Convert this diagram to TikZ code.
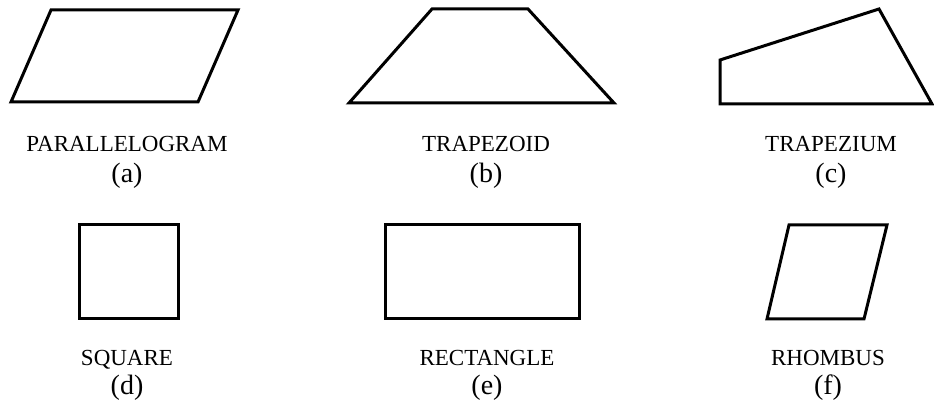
\documentclass[tikz,border=0pt]{standalone}
\usepackage{fontspec}
\setmainfont{Liberation Serif}
\usetikzlibrary{positioning}

\begin{document}
\begin{tikzpicture}[
    x=1pt, y=-1pt,
    outline/.style={draw, line width=3pt, line join=miter},
    shapename/.style={font=\fontsize{23}{25}\selectfont, inner sep=0pt,
        text height=15pt, text depth=4pt},
    tag/.style={font=\fontsize{28}{30}\selectfont, inner sep=0pt}
]
    \useasboundingbox (0,0) rectangle (934,411);

    % top row
    \draw[outline] (11,102) -- (51,10) -- (238,10) -- (198,102) -- cycle;
    \draw[outline] (349,103) -- (432,9) -- (528,9) -- (614,103) -- cycle;
    \draw[outline] (720,104) -- (720,60) -- (879,9) -- (932,104) -- cycle;

    \node[shapename] (lbla) at (127,146) {PARALLELOGRAM};
    \node[tag, below=7pt of lbla] (taga) {(a)};
    \node[shapename] (lblb) at (486,146) {TRAPEZOID};
    \node[tag, below=7pt of lblb] (tagb) {(b)};
    \node[shapename] (lblc) at (831,146) {TRAPEZIUM};
    \node[tag, below=7pt of lblc] (tagc) {(c)};

    % bottom row
    \draw[outline] (79,225) rectangle (178,319);
    \draw[outline] (385,225) rectangle (579,319);
    \draw[outline] (767,319) -- (789,225) -- (887,225) -- (864,319) -- cycle;

    \node[shapename] (lbld) at (127,360) {SQUARE};
    \node[tag, below=5pt of lbld] (tagd) {(d)};
    \node[shapename] (lble) at (487,360) {RECTANGLE};
    \node[tag, below=5pt of lble] (tage) {(e)};
    \node[shapename] (lblf) at (828,360) {RHOMBUS};
    \node[tag, below=5pt of lblf] (tagf) {(f)};

\end{tikzpicture}
\end{document}
